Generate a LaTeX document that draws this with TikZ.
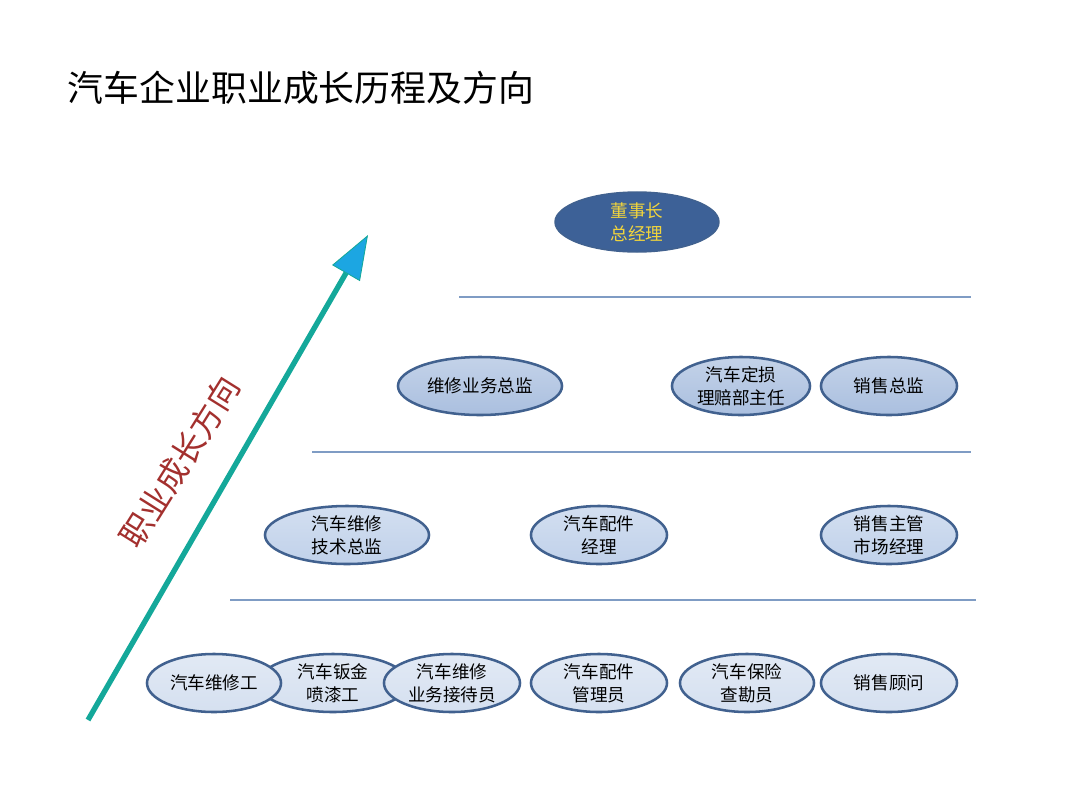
\documentclass[tikz,border=0pt]{standalone}
\usepackage{fontspec}
\setmainfont{Noto Sans CJK SC}
\usepackage{xcolor}
\usepackage{tikz}
\usetikzlibrary{arrows.meta,positioning,shapes.geometric}
\definecolor{rimx}{HTML}{41618F}
\definecolor{bossx}{HTML}{3D6197}
\definecolor{goldx}{HTML}{F2D53C}
\definecolor{lineb}{HTML}{7F9CC4}
\definecolor{tealx}{HTML}{14A89A}
\definecolor{cyanx}{HTML}{1CA6E2}
\definecolor{redx}{HTML}{A3302E}
\definecolor{filltwo}{HTML}{AABFDF}
\definecolor{fillthree}{HTML}{C0D1EA}
\definecolor{fillfour}{HTML}{D5E0F0}
\tikzset{
  posbox/.style={ellipse,draw=rimx,line width=1.8pt,inner sep=0pt,align=center,
    font=\fontsize{12.5}{16.5}\selectfont,text=black,minimum height=1.45cm},
  lvtwo/.style={posbox,top color=filltwo!70!white,bottom color=filltwo},
  lvthree/.style={posbox,top color=fillthree!70!white,bottom color=fillthree},
  lvfour/.style={posbox,top color=fillfour!70!white,bottom color=fillfour},
  boss/.style={ellipse,draw=rimx,line width=1pt,fill=bossx,text=goldx,align=center,
    font=\fontsize{12.5}{16.5}\selectfont,inner sep=0pt,minimum width=4.1cm,minimum height=1.5cm},
  sepl/.style={lineb,line width=0.8pt},
  up/.style={tealx,line width=3.8pt,-{Triangle[length=1.1cm,width=0.8cm,fill=cyanx,color=tealx,line width=0.6pt]}}
}
\begin{document}
\begin{tikzpicture}[x=0.025cm,y=-0.025cm]
\useasboundingbox (0,0) rectangle (1080,810);
\node[anchor=west,font=\fontsize{25.5}{30}\selectfont] (title) at (63,88) {汽车企业职业成长历程及方向};
% top
\node[boss] (dsz) at (637,222) {董事长\\总经理};
\draw[sepl] (459,297) -- (971,297);
% level 2
\node[lvtwo,minimum width=4.1cm] (wxzj) at (480,386) {维修业务总监};
\node[lvtwo,minimum width=3.45cm] (dspb) at (741,386) {汽车定损\\理赔部主任};
\node[lvtwo,minimum width=3.4cm] (xszj) at (889,386) {销售总监};
\draw[sepl] (312,452) -- (971,452);
% level 3
\node[lvthree,minimum width=4.1cm] (jszj) at (347,535) {汽车维修\\技术总监};
\node[lvthree,minimum width=3.4cm] (pjjl) at (599,535) {汽车配件\\经理};
\node[lvthree,minimum width=3.4cm] (scjl) at (889,535) {销售主管\\市场经理};
\draw[sepl] (230,600) -- (976,600);
% level 4
\node[lvfour,minimum width=3.75cm] (bjpq) at (333,683) {汽车钣金\\喷漆工};
\node[lvfour,minimum width=3.35cm] (wxg) at (214,683) {汽车维修工};
\node[lvfour,minimum width=3.4cm] (jdy) at (452,683) {汽车维修\\业务接待员};
\node[lvfour,minimum width=3.4cm] (pjgl) at (599,683) {汽车配件\\管理员};
\node[lvfour,minimum width=3.35cm] (bxck) at (747,683) {汽车保险\\查勘员};
\node[lvfour,minimum width=3.4cm] (xsgw) at (889,683) {销售顾问};
% growth arrow
\coordinate (base) at (88,720);
\coordinate (tip) at (368,235);
\draw[up] (base) -- (tip);
\node[rotate=58,text=redx,font=\fontsize{23}{26}\selectfont] (dir) at (180,462) {职业成长方向};
\end{tikzpicture}
\end{document}
